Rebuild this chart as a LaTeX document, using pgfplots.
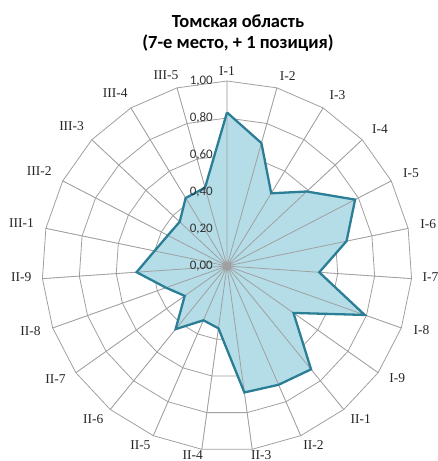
\documentclass[border=0pt]{standalone}
\usepackage{pgfplots}
\pgfplotsset{compat=1.18}
\usepackage{pgfplotstable}
\usepgfplotslibrary{polar}
\usepackage{fontspec}
\newfontfamily\carlito{Carlito}
\newfontfamily\lserif{Liberation Serif}
\definecolor{gridc}{RGB}{160,160,160}
\definecolor{linec}{RGB}{44,126,150}
\definecolor{fillc}{RGB}{180,221,232}
\tikzset{radlab/.style={anchor=east, inner sep=0pt, xshift=-14pt, font=\carlito\fontsize{13}{15}\selectfont, text=black!80}}

% angle (deg), value, ring radii
\pgfplotstableread{
a        v     r1  r2  r3  r4  r5
90       0.83  0.2 0.4 0.6 0.8 1.0
74.348   0.69  0.2 0.4 0.6 0.8 1.0
58.696   0.46  0.2 0.4 0.6 0.8 1.0
43.043   0.59  0.2 0.4 0.6 0.8 1.0
27.391   0.78  0.2 0.4 0.6 0.8 1.0
11.739   0.66  0.2 0.4 0.6 0.8 1.0
356.087  0.50  0.2 0.4 0.6 0.8 1.0
340.435  0.79  0.2 0.4 0.6 0.8 1.0
324.783  0.44  0.2 0.4 0.6 0.8 1.0
309.130  0.72  0.2 0.4 0.6 0.8 1.0
293.478  0.70  0.2 0.4 0.6 0.8 1.0
277.826  0.69  0.2 0.4 0.6 0.8 1.0
262.174  0.34  0.2 0.4 0.6 0.8 1.0
246.522  0.32  0.2 0.4 0.6 0.8 1.0
230.870  0.44  0.2 0.4 0.6 0.8 1.0
215.217  0.28  0.2 0.4 0.6 0.8 1.0
199.565  0.35  0.2 0.4 0.6 0.8 1.0
183.913  0.49  0.2 0.4 0.6 0.8 1.0
168.261  0.40  0.2 0.4 0.6 0.8 1.0
152.609  0.36  0.2 0.4 0.6 0.8 1.0
136.957  0.35  0.2 0.4 0.6 0.8 1.0
121.304  0.43  0.2 0.4 0.6 0.8 1.0
105.652  0.44  0.2 0.4 0.6 0.8 1.0
90       0.83  0.2 0.4 0.6 0.8 1.0
}\datatable

% spokes
\pgfplotstableread{
a r
90 0
90 1
nan nan
74.348 0
74.348 1
nan nan
58.696 0
58.696 1
nan nan
43.043 0
43.043 1
nan nan
27.391 0
27.391 1
nan nan
11.739 0
11.739 1
nan nan
356.087 0
356.087 1
nan nan
340.435 0
340.435 1
nan nan
324.783 0
324.783 1
nan nan
309.130 0
309.130 1
nan nan
293.478 0
293.478 1
nan nan
277.826 0
277.826 1
nan nan
262.174 0
262.174 1
nan nan
246.522 0
246.522 1
nan nan
230.870 0
230.870 1
nan nan
215.217 0
215.217 1
nan nan
199.565 0
199.565 1
nan nan
183.913 0
183.913 1
nan nan
168.261 0
168.261 1
nan nan
152.609 0
152.609 1
nan nan
136.957 0
136.957 1
nan nan
121.304 0
121.304 1
nan nan
105.652 0
105.652 1
}\spoketable

\begin{document}
\begin{tikzpicture}
\begin{polaraxis}[
  scale only axis, width=370pt, height=370pt,
  xmin=0, xmax=360, ymin=0, ymax=1,
  xtick={90,74.348,58.696,43.043,27.391,11.739,356.087,340.435,324.783,309.130,293.478,277.826,262.174,246.522,230.870,215.217,199.565,183.913,168.261,152.609,136.957,121.304,105.652},
  xticklabels={I-1,I-2,I-3,I-4,I-5,I-6,I-7,I-8,I-9,II-1,II-2,II-3,II-4,II-5,II-6,II-7,II-8,II-9,III-1,III-2,III-3,III-4,III-5},
  ytick=\empty,
  axis line style={draw=none},
  major tick length=0pt,
  xticklabel style={font=\lserif\fontsize{13.5}{15}\selectfont, inner sep=3pt, yshift=2pt, xshift={8*sign(round(100*cos(\tick)))}, text=black!85},
  clip=false,
  unbounded coords=jump,
]
\addplot[gridc, line width=0.8pt, no marks] table[x=a, y=r1] {\datatable};
\addplot[gridc, line width=0.8pt, no marks] table[x=a, y=r2] {\datatable};
\addplot[gridc, line width=0.8pt, no marks] table[x=a, y=r3] {\datatable};
\addplot[gridc, line width=0.8pt, no marks] table[x=a, y=r4] {\datatable};
\addplot[gridc, line width=0.8pt, no marks] table[x=a, y=r5] {\datatable};
\addplot[draw=none, fill=fillc, no marks] table[x=a, y=v] {\datatable};
\addplot[gridc, line width=0.8pt, no marks] table[x=a, y=r] {\spoketable};
\addplot[linec, line width=2.3pt, no marks, line join=miter] table[x=a, y=v] {\datatable};
\coordinate (c) at (axis cs:0,0);
\node[radlab] at (axis cs:90,0) {0,00};
\node[radlab] at (axis cs:90,0.2) {0,20};
\node[radlab] at (axis cs:90,0.4) {0,40};
\node[radlab] at (axis cs:90,0.6) {0,60};
\node[radlab] at (axis cs:90,0.8) {0,80};
\node[radlab] at (axis cs:90,1) {1,00};
\end{polaraxis}
\node[font=\carlito\bfseries\fontsize{18.5}{21.5}\selectfont, align=center] at ([xshift=11pt,yshift=233pt]c) {Томская область\\(7-е место, + 1 позиция)};
\pgfresetboundingbox
\path (c) ++(-227pt,266pt) rectangle ++(437pt,-461pt);
\end{tikzpicture}
\end{document}
